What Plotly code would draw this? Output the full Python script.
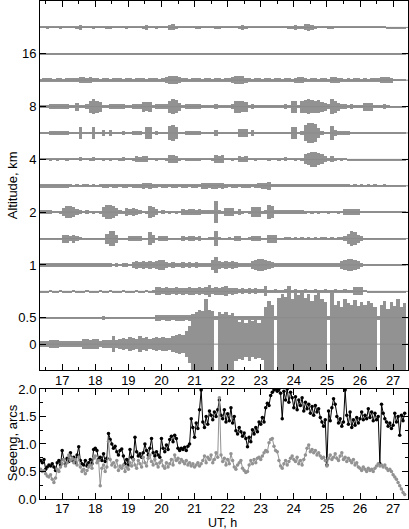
import numpy as np
import plotly.graph_objects as go

# time grids (UT, h)
PROFILE_T0, PROFILE_DT, N_PROFILE = 16.35, 0.1, 111
SEEING_T0, SEEING_DT, N_SEEING = 16.35, 0.05, 221
X_RANGE = [16.33, 27.45]

# altitude levels are drawn at index positions 0..12
ALT_TICKS = [0, 1, 3, 5, 7, 9, 11]
ALT_LABELS = ["0", "0.5", "1", "2", "4", "8", "16"]

# turbulence amplitude per layer, % of level spacing, one value per 0.1 h
layer_12 = [4, 4, 5, 4, 4, 4, 5, 4, 4, 4, 4, 5, 8, 4, 4, 4, 5, 4, 4, 4,
            5, 6, 4, 4, 4, 4, 5, 4, 4, 4, 4, 5, 8, 4, 4, 5, 4, 4, 4, 8,
            11, 6, 4, 4, 4, 4, 4, 5, 6, 4, 4, 4, 4, 5, 6, 4, 4, 4, 4, 4,
            5, 8, 5, 4, 4, 4, 4, 4, 4, 4, 4, 4, 4, 4, 4, 5, 6, 8, 6, 6,
            11, 13, 10, 5, 4, 4, 4, 5, 7, 4, 4, 4, 4, 4, 4, 4, 4, 4, 4, 4,
            4, 4, 4, 4, 4, 3, 3, 3, 3, 3, 3]
layer_11 = [2, 2, 3, 2, 2, 2, 3, 2, 2, 2, 2, 3, 2, 2, 2, 2, 2, 3, 2, 2,
            2, 2, 2, 3, 2, 2, 2, 2, 2, 3, 2, 2, 2, 2, 3, 2, 2, 2, 2, 2,
            3, 2, 2, 2, 2, 2, 3, 2, 2, 2, 2, 2, 3, 2, 2, 2, 2, 2, 3, 2,
            2, 2, 2, 2, 2, 3, 2, 2, 2, 2, 2, 3, 2, 2, 2, 2, 2, 2, 3, 2,
            2, 2, 2, 3, 2, 2, 2, 2, 2, 2, 3, 2, 2, 2, 2, 2, 3, 2, 2, 2,
            2, 2, 2, 3, 2, 2, 2, 2, 2, 2, 2]
layer_10 = [6, 8, 7, 8, 6, 8, 7, 6, 8, 7, 8, 7, 11, 11, 10, 11, 8, 7, 6, 8,
            7, 6, 8, 7, 8, 6, 7, 8, 6, 7, 8, 7, 6, 8, 7, 8, 6, 7, 12, 15,
            15, 14, 11, 7, 8, 6, 7, 8, 7, 6, 8, 7, 6, 8, 7, 6, 8, 7, 12, 15,
            15, 14, 10, 7, 6, 8, 7, 6, 8, 7, 6, 7, 8, 6, 8, 7, 6, 10, 12, 11,
            7, 6, 8, 7, 6, 8, 7, 6, 11, 12, 10, 7, 6, 8, 6, 7, 8, 6, 7, 6,
            7, 8, 7, 11, 12, 11, 10, 4, 3, 3, 3]
layer_9 = [5, 6, 5, 10, 9, 10, 8, 10, 9, 6, 7, 15, 7, 6, 8, 23, 27, 23, 19, 6,
           7, 11, 9, 11, 10, 11, 6, 7, 11, 10, 11, 19, 18, 19, 7, 8, 11, 10, 11, 23,
           27, 25, 15, 6, 11, 9, 11, 10, 11, 6, 5, 7, 6, 11, 6, 7, 5, 6, 8, 23,
           23, 21, 19, 6, 11, 5, 7, 6, 5, 6, 5, 6, 7, 6, 11, 6, 23, 23, 7, 23,
           25, 27, 25, 23, 25, 19, 15, 8, 27, 23, 15, 11, 8, 6, 8, 6, 5, 6, 15, 15,
           15, 7, 6, 5, 11, 6, 3, 3, 3, 3, 3]
layer_8 = [4, 4, 5, 8, 7, 8, 6, 8, 8, 4, 4, 5, 23, 5, 4, 4, 23, 5, 4, 11,
           4, 11, 5, 4, 4, 8, 4, 5, 8, 8, 8, 5, 23, 23, 5, 8, 4, 5, 4, 27,
           30, 23, 5, 4, 8, 7, 8, 6, 8, 4, 4, 5, 4, 11, 5, 4, 4, 5, 4, 5,
           15, 15, 15, 5, 11, 4, 4, 5, 4, 4, 4, 5, 4, 4, 5, 4, 23, 23, 5, 6,
           30, 38, 38, 34, 19, 6, 5, 4, 27, 11, 8, 8, 7, 8, 5, 4, 4, 3, 3, 3,
           3, 3, 3, 3, 3, 3, 3, 3, 3, 3, 3]
layer_7 = [4, 4, 4, 5, 4, 6, 4, 4, 5, 4, 4, 4, 8, 4, 4, 5, 8, 4, 4, 5,
           4, 6, 4, 4, 5, 8, 4, 4, 5, 11, 10, 11, 11, 4, 4, 5, 4, 4, 5, 15,
           15, 14, 5, 4, 6, 5, 6, 5, 6, 4, 4, 4, 5, 15, 14, 15, 4, 4, 5, 4,
           11, 10, 11, 4, 4, 5, 4, 4, 4, 5, 4, 4, 5, 4, 8, 4, 4, 5, 4, 6,
           19, 23, 27, 27, 23, 19, 11, 5, 11, 5, 4, 5, 4, 3, 3, 3, 3, 3, 3, 3,
           3, 3, 3, 3, 3, 3, 3, 3, 3, 3, 3]
layer_6 = [8, 7, 8, 8, 7, 8, 7, 8, 7, 5, 4, 5, 4, 6, 5, 4, 5, 4, 6, 7,
           8, 6, 7, 8, 6, 7, 8, 6, 7, 8, 7, 11, 10, 11, 7, 8, 6, 8, 7, 6,
           8, 7, 6, 8, 7, 6, 8, 7, 6, 11, 11, 10, 11, 11, 10, 11, 7, 6, 7, 8,
           6, 7, 8, 7, 6, 8, 10, 11, 12, 15, 6, 5, 6, 5, 6, 5, 6, 5, 6, 5,
           6, 5, 5, 6, 5, 5, 6, 5, 5, 5, 5, 6, 5, 5, 4, 5, 4, 5, 4, 5,
           4, 5, 4, 4, 5, 4, 4, 4, 4, 4, 4]
layer_5 = [8, 8, 7, 8, 5, 5, 6, 15, 23, 23, 19, 11, 8, 5, 8, 5, 6, 5, 6, 19,
           27, 27, 23, 15, 8, 6, 15, 11, 15, 11, 8, 5, 6, 23, 19, 11, 5, 8, 5, 6,
           5, 6, 5, 11, 10, 11, 11, 10, 11, 8, 8, 7, 8, 42, 8, 6, 15, 15, 15, 6,
           11, 6, 5, 6, 19, 19, 19, 6, 8, 27, 23, 8, 7, 8, 7, 8, 7, 8, 7, 8,
           6, 5, 6, 5, 6, 5, 5, 6, 5, 5, 6, 5, 11, 11, 12, 11, 11, 5, 4, 4,
           4, 4, 4, 4, 4, 4, 4, 4, 4, 4, 4]
layer_4 = [3, 3, 4, 3, 3, 4, 3, 15, 15, 11, 15, 11, 6, 3, 4, 3, 3, 4, 3, 4,
           19, 30, 27, 15, 4, 3, 4, 11, 10, 11, 11, 4, 3, 23, 15, 4, 8, 8, 8, 3,
           4, 3, 4, 8, 7, 8, 8, 7, 8, 4, 4, 5, 6, 30, 6, 4, 4, 5, 4, 8,
           8, 4, 4, 5, 8, 8, 8, 4, 4, 15, 15, 15, 4, 4, 5, 6, 4, 6, 4, 6,
           4, 6, 4, 6, 4, 5, 6, 4, 6, 4, 5, 6, 11, 19, 27, 23, 15, 8, 3, 3,
           3, 3, 3, 3, 3, 3, 3, 3, 3, 3, 3]
layer_3 = [7, 8, 7, 8, 8, 7, 8, 7, 8, 7, 8, 7, 8, 7, 8, 8, 7, 8, 7, 8,
           7, 6, 5, 6, 5, 6, 6, 5, 11, 15, 11, 15, 11, 15, 11, 15, 19, 19, 11, 8,
           11, 8, 9, 11, 8, 10, 8, 11, 8, 7, 6, 8, 19, 30, 15, 11, 15, 11, 15, 11,
           7, 6, 7, 8, 15, 19, 23, 23, 19, 15, 11, 6, 7, 8, 7, 6, 8, 7, 6, 8,
           7, 8, 6, 7, 8, 7, 6, 8, 7, 6, 8, 15, 19, 23, 23, 19, 15, 8, 4, 4,
           4, 4, 4, 4, 4, 4, 4, 4, 4, 4, 4]
layer_2 = [3, 3, 3, 4, 3, 3, 4, 3, 3, 3, 4, 3, 3, 3, 4, 3, 3, 3, 4, 3,
           3, 4, 3, 3, 3, 4, 3, 3, 3, 4, 3, 3, 4, 3, 5, 15, 15, 11, 15, 13,
           11, 15, 11, 13, 11, 15, 13, 11, 15, 11, 15, 23, 11, 15, 13, 15, 19, 11, 13, 11,
           8, 11, 8, 11, 8, 11, 8, 8, 19, 7, 7, 8, 7, 7, 8, 7, 7, 8, 7, 7,
           8, 7, 7, 8, 7, 7, 8, 7, 7, 8, 7, 7, 8, 7, 7, 15, 15, 15, 4, 3,
           3, 3, 3, 3, 3, 3, 3, 3, 3, 3, 3]
layer_1 = [3, 3, 3, 3, 3, 3, 4, 3, 3, 3, 3, 3, 3, 4, 3, 3, 3, 3, 3, 8,
           3, 3, 3, 3, 3, 4, 3, 3, 3, 3, 3, 4, 3, 3, 3, 11, 11, 10, 11, 11,
           10, 11, 11, 11, 10, 11, 15, 13, 15, 11, 15, 13, 11, 8, 8, 7, 8, 7, 8, 8,
           7, 8, 8, 7, 8, 8, 7, 8, 8, 7, 8, 7, 8, 8, 7, 8, 8, 7, 8, 8,
           7, 8, 8, 7, 8, 7, 8, 8, 7, 8, 8, 7, 8, 8, 7, 8, 8, 7, 8, 7,
           8, 8, 7, 8, 7, 8, 8, 7, 8, 7, 6]
ground_up = [11, 11, 12, 15, 15, 14, 11, 12, 11, 11, 12, 11, 11, 19, 19, 17, 19, 19, 11, 15,
             15, 15, 30, 15, 19, 23, 19, 27, 23, 19, 30, 23, 27, 19, 23, 27, 23, 27, 25, 23,
             30, 34, 38, 34, 50, 70, 100, 120, 130, 125, 170, 130, 125, 0, 120, 115, 120, 110, 118, 95,
             85, 90, 80, 92, 88, 95, 82, 90, 140, 165, 150, 0, 175, 190, 180, 220, 170, 195, 185, 200,
             175, 190, 165, 185, 200, 170, 160, 0, 200, 150, 165, 140, 170, 155, 150, 168, 145, 160, 150, 165,
             155, 140, 0, 150, 165, 135, 160, 145, 170, 140, 155]
ground_down = [11, 11, 12, 15, 15, 14, 11, 12, 11, 11, 12, 11, 11, 19, 19, 17, 19, 19, 11, 15,
               15, 15, 30, 15, 19, 23, 19, 27, 23, 19, 30, 23, 27, 19, 23, 27, 23, 27, 25, 23,
               30, 34, 38, 34, 50, 70, 100, 120, 130, 125, 170, 130, 125, 0, 120, 115, 120, 110, 118, 65,
               55, 60, 48, 62, 50, 58, 52, 60, 140, 165, 150, 0, 175, 190, 180, 220, 170, 195, 185, 200,
               175, 190, 165, 185, 200, 170, 160, 0, 200, 150, 165, 140, 170, 155, 150, 168, 145, 160, 150, 165,
               155, 140, 0, 150, 165, 135, 160, 145, 170, 140, 155]

# seeing, arcsec, one value per 0.05 h
seeing_total = [0.70, 0.66, 0.72, 0.54, 0.58, 0.62, 0.60, 0.64, 0.58, 0.52, 0.66, 0.70, 0.62,
                0.88, 0.72, 0.64, 0.74, 0.68, 0.84, 0.70, 0.76, 0.66, 0.80, 0.95, 0.70, 0.64, 0.62, 0.70, 0.60, 0.66, 0.72, 0.64, 0.90,
                0.92, 0.88, 0.72, 0.76, 0.70, 0.82, 0.68, 0.74, 1.19, 1.08, 1.00, 0.92, 0.96, 0.86, 0.80, 0.88, 0.91, 0.78, 0.64, 0.72,
                0.62, 0.90, 0.76, 0.72, 1.12, 0.86, 0.78, 0.82, 0.76, 0.84, 1.00, 0.88, 0.80, 0.92, 1.10, 0.84, 0.78, 0.86, 0.80, 0.76,
                1.10, 0.92, 0.86, 0.98, 0.90, 1.08, 1.14, 1.04, 1.16, 1.10, 0.92, 0.88, 0.92, 0.90, 0.94, 0.88, 0.96, 1.00, 1.46, 1.30,
                1.12, 1.38, 1.28, 1.62, 1.98, 1.40, 1.30, 1.50, 1.36, 1.60, 1.52, 1.44, 1.58, 1.50, 1.62, 1.80, 1.52, 1.46, 1.62, 1.40,
                1.55, 1.42, 1.66, 1.38, 1.50, 1.24, 1.18, 1.30, 1.22, 1.14, 1.20, 1.10, 0.95, 1.12, 1.04, 1.26, 1.18, 1.30, 1.22, 1.40,
                1.36, 1.48, 1.40, 1.66, 1.74, 1.70, 1.88, 1.94, 1.98, 2.00, 1.96, 2.00, 1.92, 1.46, 1.96, 1.80, 2.00, 1.76, 1.94, 1.84,
                1.66, 1.86, 1.62, 1.80, 1.70, 1.84, 1.60, 1.76, 1.64, 1.72, 1.56, 1.68, 1.52, 1.70, 1.58, 1.64, 1.48, 1.40, 1.32, 1.44,
                0.62, 1.60, 1.42, 1.66, 1.82, 1.72, 1.50, 1.38, 1.46, 1.32, 1.40, 1.98, 1.52, 1.36, 1.58, 1.30, 1.44, 1.34, 1.48, 1.38,
                1.46, 1.58, 1.44, 1.52, 1.46, 1.64, 1.48, 1.58, 1.42, 1.56, 1.44, 1.50, 0.64, 1.72, 1.56, 1.46, 1.40, 1.32, 1.38, 1.28,
                1.34, 1.56, 1.40, 1.50, 1.16, 1.52, 1.42, 1.56]
seeing_free = [0.54, 0.50, 0.52, 0.46, 0.42, 0.40, 0.44, 0.36, 0.30, 0.38, 0.54, 0.50, 0.58,
               0.64, 0.72, 0.60, 0.66, 0.80, 0.70, 0.74, 0.66, 0.72, 0.62, 0.76, 0.58, 0.50, 0.54, 0.46, 0.52, 0.58, 0.62, 0.56, 0.74,
               0.78, 0.66, 0.70, 0.24, 0.56, 0.62, 0.50, 0.58, 1.05, 0.72, 0.62, 0.66, 0.58, 0.70, 0.52, 0.60, 0.56, 0.62, 0.50, 0.58,
               0.54, 0.66, 0.60, 0.72, 0.62, 0.56, 0.70, 0.64, 0.58, 0.76, 0.66, 0.60, 0.74, 0.80, 0.68, 0.62, 0.72, 0.64, 0.58, 0.66,
               0.70, 0.60, 0.56, 0.66, 0.58, 0.64, 0.72, 0.62, 0.80, 0.70, 0.74, 0.66, 0.72, 0.68, 0.64, 0.70, 0.62, 0.66, 0.60, 0.64,
               0.58, 0.62, 0.66, 0.60, 0.64, 0.70, 0.78, 0.66, 0.76, 0.72, 0.80, 0.66, 0.72, 0.84, 0.76, 1.84, 0.80, 0.68, 0.74, 0.62,
               0.72, 0.64, 0.82, 0.70, 0.58, 0.54, 0.62, 0.66, 0.70, 0.56, 0.52, 0.48, 0.50, 0.62, 0.70, 0.64, 0.72, 0.66, 0.74, 0.76,
               0.72, 0.78, 0.84, 0.88, 0.86, 1.02, 1.08, 1.10, 0.96, 0.88, 0.86, 0.70, 0.60, 0.56, 0.64, 0.70, 0.62, 0.68, 0.74, 0.78,
               0.72, 0.68, 0.76, 0.64, 0.70, 0.62, 0.72, 0.80, 0.92, 0.98, 0.86, 0.90, 0.84, 0.88, 0.80, 0.84, 0.78, 0.74, 0.76, 0.70,
               0.60, 0.74, 0.80, 0.72, 0.76, 0.82, 0.74, 0.70, 0.78, 0.84, 0.72, 0.76, 0.68, 0.74, 0.70, 0.66, 0.72, 0.62, 0.66, 0.58,
               0.56, 0.52, 0.58, 0.54, 0.50, 0.56, 0.52, 0.54, 0.50, 0.56, 0.60, 0.64, 0.60, 0.62, 0.58, 0.62, 0.56, 0.52, 0.54, 0.50,
               0.44, 0.40, 0.36, 0.30, 0.24, 0.18, 0.12, 0.08]

GRAY = "#929292"
BASE_GRAY = "#8a8a8a"

t_prof = np.round(PROFILE_T0 + PROFILE_DT * np.arange(N_PROFILE), 3)
t_see = np.round(SEEING_T0 + SEEING_DT * np.arange(N_SEEING), 3)

layers = [
    (0, ground_up, ground_down), (1, layer_1, layer_1), (2, layer_2, layer_2),
    (3, layer_3, layer_3), (4, layer_4, layer_4), (5, layer_5, layer_5),
    (6, layer_6, layer_6), (7, layer_7, layer_7), (8, layer_8, layer_8),
    (9, layer_9, layer_9), (10, layer_10, layer_10), (11, layer_11, layer_11),
    (12, layer_12, layer_12),
]
for lvl, up, down in layers:
    assert len(up) == N_PROFILE and len(down) == N_PROFILE, (lvl, len(up), len(down))
assert len(seeing_total) == N_SEEING and len(seeing_free) == N_SEEING

fig = go.Figure()

# profile bars, high layers first so the ground layer ends up on top
for lvl, up, down in reversed(layers):
    up = np.array(up) / 100.0
    down = np.array(down) / 100.0
    fig.add_trace(go.Bar(
        x=t_prof, y=up + down, base=lvl - down, width=PROFILE_DT,
        marker=dict(color=GRAY, line=dict(width=0)),
        xaxis="x", yaxis="y", hoverinfo="skip", showlegend=False,
    ))

# baselines of each layer
for lvl, _, _ in layers:
    fig.add_trace(go.Scatter(
        x=X_RANGE, y=[lvl, lvl], mode="lines",
        line=dict(color=BASE_GRAY, width=1),
        xaxis="x", yaxis="y", hoverinfo="skip", showlegend=False,
    ))

fig.add_trace(go.Scatter(
    x=t_see, y=seeing_total, mode="lines+markers",
    line=dict(color="black", width=1), marker=dict(color="black", size=3.5),
    xaxis="x2", yaxis="y2", showlegend=False,
))
fig.add_trace(go.Scatter(
    x=t_see, y=seeing_free, mode="lines+markers",
    line=dict(color=GRAY, width=1), marker=dict(color=GRAY, size=3.5),
    xaxis="x2", yaxis="y2", showlegend=False,
))

axis_style = dict(
    showline=True, linecolor="black", linewidth=1, mirror="ticks",
    ticks="inside", ticklen=6, tickwidth=1, tickcolor="black",
    showgrid=False, zeroline=False, automargin=False,
    tickfont=dict(size=13, color="black"),
)
minor_x = dict(dtick=0.5, ticks="inside", ticklen=3, tickcolor="black", showgrid=False)

fig.update_layout(
    width=409, height=529,
    margin=dict(l=40, r=1, t=1, b=30, autoexpand=False),
    plot_bgcolor="white", paper_bgcolor="white",
    font=dict(family="Liberation Sans, Arial, sans-serif", size=13, color="black"),
    barmode="overlay", bargap=0, showlegend=False,
    xaxis=dict(domain=[0, 1], anchor="y", range=X_RANGE, tick0=17, dtick=1,
               minor=minor_x, ticklabelstandoff=-2, **axis_style),
    yaxis=dict(domain=[0.259, 1], anchor="x", range=[-0.98, 13.0],
               tickvals=ALT_TICKS, ticktext=ALT_LABELS, **axis_style),
    xaxis2=dict(domain=[0, 1], anchor="y2", range=X_RANGE, tick0=17, dtick=1,
                minor=minor_x, ticklabelstandoff=-3, **axis_style),
    yaxis2=dict(domain=[0, 0.221], anchor="x2", range=[0, 2], dtick=0.5,
                tickformat=".1f",
                minor=dict(dtick=0.25, ticks="inside", ticklen=3, tickcolor="black", showgrid=False),
                **axis_style),
    annotations=[
        dict(text="Altitude, km", xref="paper", yref="paper", x=-0.076, y=0.63,
             xanchor="center", yanchor="middle", textangle=-90, showarrow=False,
             font=dict(size=13)),
        dict(text="Seeeng, arcs", xref="paper", yref="paper", x=-0.076, y=0.112,
             xanchor="center", yanchor="middle", textangle=-90, showarrow=False,
             font=dict(size=13)),
        dict(text="UT, h", xref="paper", yref="paper", x=0.495, y=-0.048,
             xanchor="center", yanchor="middle", showarrow=False, borderpad=0,
             font=dict(size=12.5)),
    ],
)

# page body has a default 8px margin; remove it so the figure fills the window
fig.write_html("out.html", config={"displayModeBar": False},
               post_script="document.body.style.margin='0';")
